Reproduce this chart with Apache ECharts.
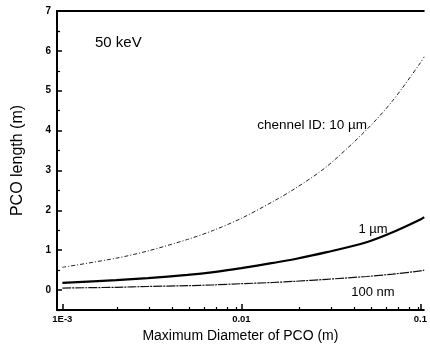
<!DOCTYPE html>
<html>
<head>
    <meta charset="UTF-8">
    <title>PCO length</title>
    <style>
        html, body { margin: 0; padding: 0; background: #fff; }
        #chart { width: 430px; height: 356px; }
    </style>
    <script src="https://cdn.jsdelivr.net/npm/echarts@6/dist/echarts.min.js"></script>
</head>
<body>
    <div id="chart"></div>
    <script>
        // values (diameter in m, length in m)
        var diameters = [0.001, 0.002, 0.003, 0.005, 0.007, 0.01, 0.015, 0.02, 0.03, 0.05, 0.07, 0.1, 0.105];
        var len10um  = [0.57, 0.80, 0.98, 1.27, 1.50, 1.80, 2.22, 2.55, 3.10, 4.02, 4.75, 5.70, 5.85];
        var len1um   = [0.18, 0.25, 0.30, 0.38, 0.45, 0.55, 0.68, 0.78, 0.95, 1.20, 1.45, 1.77, 1.83];
        var len100nm = [0.05, 0.07, 0.09, 0.11, 0.13, 0.16, 0.19, 0.22, 0.27, 0.34, 0.40, 0.48, 0.50];

        var xTickValues = [0.001, 0.01, 0.1];
        var xTickLabels = ['1E-3', '0.01', '0.1'];
        var yTickValues = [0, 1, 2, 3, 4, 5, 6, 7];

        // x is drawn as log10(d) on a value axis
        var lg = function (v) { return Math.log10(v); };
        var xMajor = xTickValues.map(lg);
        var xMinor = [];
        [0.001, 0.01].forEach(function (dec) {
            for (var k = 2; k <= 9; k++) xMinor.push(lg(dec * k));
        });
        var yMinor = yTickValues.map(function (v) { return v - 0.5; });
        yMinor.push(6.5);

        function pairs(vals) {
            return diameters.map(function (d, i) { return [lg(d), vals[i]]; });
        }

        var X_MIN = -3.03, X_MAX = -0.981;
        var Y_MIN = -0.5, Y_MAX = 7;
        var font = 'Liberation Sans, Arial, sans-serif';
        var gridBox = { left: 57, right: 0, top: 11, bottom: 46 };

        var chart = echarts.init(document.getElementById('chart'));
        var option = {
            animation: false,
            backgroundColor: '#fff',
            grid: [
                Object.assign({}, gridBox),
                Object.assign({}, gridBox)
            ],
            xAxis: [
                {
                    type: 'value', gridIndex: 0, position: 'bottom',
                    min: X_MIN, max: X_MAX,
                    axisLine: { onZero: false, lineStyle: { color: '#000', width: 2 } },
                    axisTick: { inside: true, length: 6, customValues: xMajor, lineStyle: { color: '#000', width: 1.5 } },
                    axisLabel: {
                        customValues: xMajor, margin: 4,
                        color: '#000', fontFamily: font, fontWeight: 'bold', fontSize: 9.5,
                        formatter: function (v) {
                            var i = xMajor.findIndex(function (m) { return Math.abs(m - v) < 1e-6; });
                            return i >= 0 ? xTickLabels[i] : '';
                        }
                    },
                    splitLine: { show: false },
                    name: 'Maximum Diameter of PCO (m)',
                    nameLocation: 'middle', nameGap: 18,
                    nameTextStyle: { color: '#000', fontFamily: font, fontSize: 14 }
                },
                {
                    type: 'value', gridIndex: 0, position: 'top',
                    min: X_MIN, max: X_MAX,
                    axisLine: { onZero: false, lineStyle: { color: '#000', width: 2 } },
                    axisTick: { show: false }, axisLabel: { show: false },
                    splitLine: { show: false }
                },
                {
                    type: 'value', gridIndex: 1, position: 'bottom',
                    min: X_MIN, max: X_MAX,
                    axisLine: { show: false, onZero: false },
                    axisTick: { inside: true, length: 3, customValues: xMinor, lineStyle: { color: '#000', width: 1.2 } },
                    axisLabel: { show: false },
                    splitLine: { show: false }
                }
            ],
            yAxis: [
                {
                    type: 'value', gridIndex: 0,
                    min: Y_MIN, max: Y_MAX,
                    axisLine: { show: true, onZero: false, lineStyle: { color: '#000', width: 2 } },
                    axisTick: { show: true, inside: true, length: 5, customValues: yTickValues, lineStyle: { color: '#000', width: 1.5 } },
                    axisLabel: {
                        customValues: yTickValues, margin: 6,
                        color: '#000', fontFamily: font, fontWeight: 'bold', fontSize: 10
                    },
                    splitLine: { show: false },
                    name: 'PCO length (m)',
                    nameLocation: 'middle', nameGap: 31,
                    nameTextStyle: { color: '#000', fontFamily: font, fontSize: 16 }
                },
                {
                    type: 'value', gridIndex: 1,
                    min: Y_MIN, max: Y_MAX,
                    axisLine: { show: false, onZero: false },
                    axisTick: { show: true, inside: true, length: 3, customValues: yMinor, lineStyle: { color: '#000', width: 1.2 } },
                    axisLabel: { show: false },
                    splitLine: { show: false }
                }
            ],
            series: [
                {
                    name: '10 um', type: 'line', xAxisIndex: 0, yAxisIndex: 0,
                    data: pairs(len10um), smooth: 0.3, showSymbol: false,
                    lineStyle: { color: '#222', width: 1, type: [4, 2, 1, 2] }
                },
                {
                    name: '1 um', type: 'line', xAxisIndex: 0, yAxisIndex: 0,
                    data: pairs(len1um), smooth: 0.3, showSymbol: false,
                    lineStyle: { color: '#000', width: 2.2 }
                },
                {
                    name: '100 nm', type: 'line', xAxisIndex: 0, yAxisIndex: 0,
                    data: pairs(len100nm), smooth: 0.3, showSymbol: false,
                    lineStyle: { color: '#111', width: 1.2, type: [9, 1, 2, 1] }
                }
            ],
            graphic: [
                { type: 'text', left: 95, top: 35, style: { text: '50 keV', font: '15px ' + font, fill: '#000' } },
                { type: 'text', x: 367, y: 125, style: { text: 'chennel ID: 10 µm', font: '13.5px ' + font, fill: '#000', align: 'right', verticalAlign: 'middle' } },
                { type: 'text', x: 373, y: 229, style: { text: '1 µm', font: '13px ' + font, fill: '#000', align: 'center', verticalAlign: 'middle' } },
                { type: 'text', x: 373, y: 292, style: { text: '100 nm', font: '13px ' + font, fill: '#000', align: 'center', verticalAlign: 'middle' } }
            ]
        };
        chart.setOption(option);
    </script>
</body>
</html>
